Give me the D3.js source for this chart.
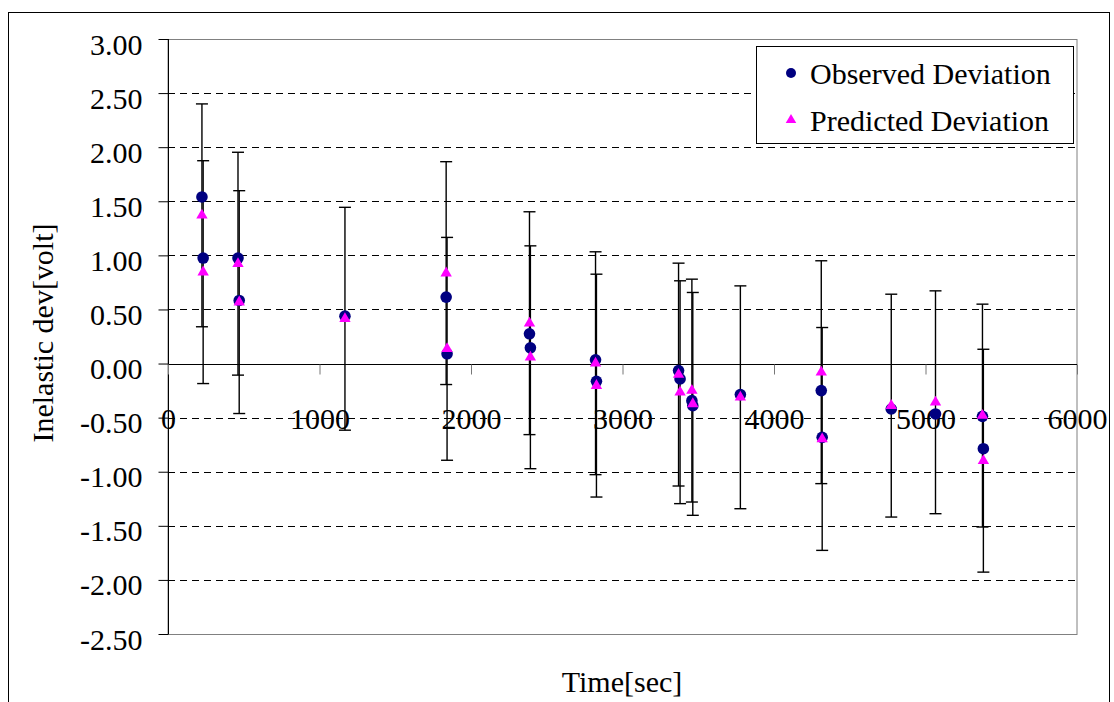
<!DOCTYPE html>
<html>
<head>
<meta charset="utf-8">
<script src="https://cdn.jsdelivr.net/npm/d3@7"></script>
<style>
  html, body { margin: 0; padding: 0; background: #fff; }
  svg { display: block; }
  svg text { font-family: "Liberation Serif", "Times New Roman", serif !important; fill: #000; }
</style>
</head>
<body>
<svg id="chart" width="1114" height="702"></svg>
<script>
// Elapsed time of each measurement [sec]
const timeSec = [224, 232, 462, 470, 1168, 1836, 1842, 2386, 2392, 2822, 2828,
                 3370, 3380, 3458, 3464, 3778, 4312, 4318, 4774, 5066, 5376, 5382];
// Observed inelastic deviation [volt]
const observed = [1.54, 0.975, 0.975, 0.583, 0.438, 0.614, 0.090, 0.275, 0.145, 0.034, -0.164,
                  -0.065, -0.142, -0.343, -0.389, -0.287, -0.250, -0.682, -0.420, -0.466, -0.488, -0.787];
// Predicted inelastic deviation [volt]
const predicted = [1.37, 0.845, 0.923, 0.568, 0.414, 0.836, 0.136, 0.373, 0.058, 0.003, -0.204,
                   -0.102, -0.265, -0.250, -0.373, -0.312, -0.080, -0.697, -0.389, -0.358, -0.481, -0.898];
// Fixed error margin drawn around each predicted value [volt]
const errorMargin = 1.03;

const xTicks = [0, 1000, 2000, 3000, 4000, 5000, 6000];
const yTicks = [3.0, 2.5, 2.0, 1.5, 1.0, 0.5, 0.0, -0.5, -1.0, -1.5, -2.0, -2.5];
const seriesNames = ["Observed Deviation", "Predicted Deviation"];
const xTitle = "Time[sec]";
const yTitle = "Inelastic dev[volt]";

const FONT = "'Liberation Serif', 'Times New Roman', serif";
const svg = d3.select("#chart");
const plot = { left: 168, top: 39, right: 1077, bottom: 634 };

const x = d3.scaleLinear().domain([0, 6000]).range([plot.left, plot.right]);
const y = d3.scaleLinear().domain([-2.5, 3]).range([plot.bottom, plot.top]);

const NAVY = "#000080", MAGENTA = "#ff00ff";

// outer chart frame
svg.append("rect")
  .attr("x", 8.5).attr("y", 12.5).attr("width", 1101).attr("height", 720)
  .attr("fill", "#fff").attr("stroke", "#000").attr("stroke-width", 1);

// plot-area frame
svg.append("rect")
  .attr("x", plot.left).attr("y", plot.top + 0.5)
  .attr("width", plot.right - plot.left).attr("height", plot.bottom - plot.top)
  .attr("fill", "#fff").attr("stroke", "#808080").attr("stroke-width", 1);

// dashed horizontal gridlines
svg.append("g").selectAll("line")
  .data(yTicks.filter(v => v !== 0 && v !== 3.0 && v !== -2.5))
  .join("line")
  .attr("x1", plot.left).attr("x2", plot.right)
  .attr("y1", d => Math.round(y(d)) + 0.5).attr("y2", d => Math.round(y(d)) + 0.5)
  .attr("stroke", "#000").attr("stroke-width", 1)
  .attr("stroke-dasharray", "7,5");

// y axis with outward ticks
const yAxis = d3.axisLeft(y).tickValues(yTicks).tickSize(10)
  .tickFormat(d => d.toFixed(2));
const gy = svg.append("g").attr("transform", `translate(${plot.left + 0.5},0)`).call(yAxis);
gy.attr("font-family", null).attr("font-size", null);
gy.select(".domain").attr("stroke", "#000").attr("d", `M0,${plot.top}V${plot.bottom}`);
gy.selectAll(".tick line").attr("stroke", "#000");
gy.selectAll(".tick text")
  .style("font-family", FONT).style("font-size", "30px")
  .attr("dy", null).attr("y", 15).attr("x", -26);

// x axis along zero, with labels set below it
const xAxis = d3.axisBottom(x).tickValues(xTicks).tickSize(10).tickFormat(d => String(d));
const gx = svg.append("g").attr("transform", `translate(0,${Math.round(y(0)) + 0.5})`).call(xAxis);
gx.attr("font-family", null).attr("font-size", null);
gx.select(".domain").attr("stroke", "#000").attr("d", `M${plot.left},0H${plot.right}`);
gx.selectAll(".tick line").attr("stroke", "#777").attr("stroke-width", 1);
gx.selectAll(".tick text")
  .style("font-family", FONT).style("font-size", "30px")
  .attr("dy", null).attr("y", 64);

// error bars around predicted values
const bars = svg.append("g").selectAll("g")
  .data(timeSec.map((t, i) => ({ t, lo: predicted[i] - errorMargin, hi: predicted[i] + errorMargin })))
  .join("g")
  .attr("stroke", "#000").attr("stroke-width", 1.4).attr("fill", "none");
bars.append("line")
  .attr("x1", d => x(d.t)).attr("x2", d => x(d.t))
  .attr("y1", d => y(d.hi)).attr("y2", d => y(d.lo));
bars.append("line")
  .attr("x1", d => x(d.t) - 6).attr("x2", d => x(d.t) + 6)
  .attr("y1", d => y(d.hi)).attr("y2", d => y(d.hi));
bars.append("line")
  .attr("x1", d => x(d.t) - 6).attr("x2", d => x(d.t) + 6)
  .attr("y1", d => y(d.lo)).attr("y2", d => y(d.lo));

// observed points
svg.append("g").selectAll("circle")
  .data(timeSec.map((t, i) => ({ t, v: observed[i] })))
  .join("circle")
  .attr("cx", d => x(d.t)).attr("cy", d => y(d.v)).attr("r", 5.8)
  .attr("fill", NAVY);

// predicted points
const tri = d3.symbol().type(d3.symbolTriangle).size(56);
svg.append("g").selectAll("path")
  .data(timeSec.map((t, i) => ({ t, v: predicted[i] })))
  .join("path")
  .attr("d", tri)
  .attr("transform", d => `translate(${x(d.t)},${y(d.v)})`)
  .attr("fill", MAGENTA);

// axis titles
svg.append("text")
  .attr("x", 622).attr("y", 692).attr("text-anchor", "middle")
  .style("font-size", "30px").text(xTitle);
svg.append("text")
  .attr("transform", "translate(53,333) rotate(-90)").attr("text-anchor", "middle")
  .style("font-size", "30px").text(yTitle);

// legend
const legend = svg.append("g");
legend.append("rect")
  .attr("x", 756.5).attr("y", 46.5).attr("width", 317).attr("height", 97)
  .attr("fill", "#fff").attr("stroke", "#000").attr("stroke-width", 1);
legend.append("circle").attr("cx", 791).attr("cy", 73).attr("r", 5).attr("fill", NAVY);
legend.append("path").attr("d", d3.symbol().type(d3.symbolTriangle).size(48))
  .attr("transform", "translate(791,120)").attr("fill", MAGENTA);
legend.selectAll("text.lbl")
  .data(seriesNames)
  .join("text")
  .attr("class", "lbl")
  .attr("x", 810).attr("y", (d, i) => 84 + i * 47)
  .style("font-size", "30px").text(d => d);
</script>
</body>
</html>
